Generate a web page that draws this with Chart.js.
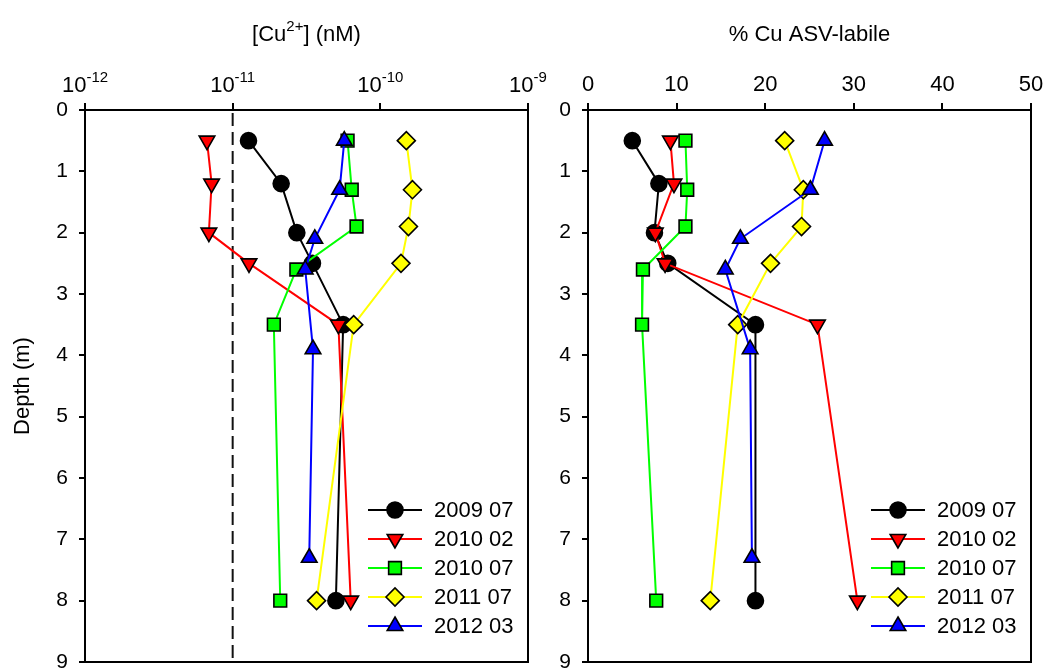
<!DOCTYPE html>
<html>
<head>
<meta charset="utf-8">
<script src="https://cdn.jsdelivr.net/npm/chart.js@4"></script>
<style>
  body { margin: 0; background: #fff; }
  #wrap { position: relative; width: 1046px; height: 668px; }
  canvas { position: absolute; top: 0; }
</style>
</head>
<body>
<div id="wrap">
  <canvas id="left" width="560" height="668" style="left:0"></canvas>
  <canvas id="right" width="501" height="668" style="left:545px"></canvas>
</div>
<script>
// series names
const seriesNames = ['2009 07', '2010 02', '2010 07', '2011 07', '2012 03'];

// depth (m) of each sample, per series
const depth0907 = [0.5, 1.2, 2.0, 2.5, 3.5, 8.0];
const depth1002 = [0.5, 1.2, 2.0, 2.5, 3.5, 8.0];
const depth1007 = [0.5, 1.3, 1.9, 2.6, 3.5, 8.0];
const depth1107 = [0.5, 1.3, 1.9, 2.5, 3.5, 8.0];
const depth1203 = [0.5, 1.3, 2.1, 2.6, 3.9, 7.3];

// [Cu2+] values
const cu0907 = [1.28e-11, 2.13e-11, 2.72e-11, 3.47e-11, 5.6e-11, 5.0e-11];
const cu1002 = [6.7e-12, 7.2e-12, 6.9e-12, 1.29e-11, 5.2e-11, 6.3e-11];
const cu1007 = [6.0e-11, 6.4e-11, 6.9e-11, 2.7e-11, 1.9e-11, 2.1e-11];
const cu1107 = [1.5e-10, 1.65e-10, 1.55e-10, 1.38e-10, 6.6e-11, 3.7e-11];
const cu1203 = [5.7e-11, 5.3e-11, 3.6e-11, 3.1e-11, 3.5e-11, 3.3e-11];

// % Cu ASV-labile values
const asv0907 = [5.0, 8.0, 7.5, 9.0, 18.9, 18.9];
const asv1002 = [9.3, 9.7, 7.6, 8.7, 25.9, 30.4];
const asv1007 = [11.0, 11.2, 11.0, 6.2, 6.1, 7.7];
const asv1107 = [22.2, 24.3, 24.1, 20.6, 16.9, 13.8];
const asv1203 = [26.7, 25.1, 17.2, 15.5, 18.3, 18.5];

// axis ticks
const depthTicks = [0, 1, 2, 3, 4, 5, 6, 7, 8, 9];
const cuTickExps = [-12, -11, -10, -9];
const asvTicks = [0, 10, 20, 30, 40, 50];
const detectionLimit = 1e-11;

const depths = [depth0907, depth1002, depth1007, depth1107, depth1203];
const cuVals = [cu0907, cu1002, cu1007, cu1107, cu1203];
const asvVals = [asv0907, asv1002, asv1007, asv1107, asv1203];

const lineColors = ['#000000', '#ff0000', '#00ff00', '#ffff00', '#0000ff'];
const markerFill = ['#000000', '#ff0000', '#00ff00', '#ffff00', '#0000ff'];
const markerStyle = ['circle', 'triangle', 'rect', 'rectRot', 'triangle'];
const markerRot = [0, 180, 0, 0, 0];
const markerSize = [8, 9, 9, 9, 9];

const FONT = 'Arial, "Liberation Sans", sans-serif';

function makeSets(vals) {
  return seriesNames.map((name, i) => ({
    label: name,
    data: vals[i].map((v, k) => ({ x: v, y: depths[i][k] })),
    borderColor: lineColors[i],
    borderWidth: 2,
    pointStyle: markerStyle[i],
    rotation: markerRot[i],
    pointRadius: markerSize[i],
    pointHoverRadius: markerSize[i],
    pointBackgroundColor: markerFill[i],
    pointBorderColor: '#000',
    pointBorderWidth: 1.6,
    order: 10 - i,
    tension: 0
  }));
}

// frame, legend, x tick labels and title
const decor = {
  id: 'decor',
  afterDraw(chart, args, opts) {
    const ctx = chart.ctx;
    const a = chart.chartArea;
    const xs = chart.scales.x;
    ctx.save();
    ctx.strokeStyle = '#000';
    ctx.lineWidth = 2;
    ctx.strokeRect(a.left, a.top, a.right - a.left, a.bottom - a.top);

    ctx.fillStyle = '#000';
    ctx.textBaseline = 'alphabetic';
    if (opts.log) {
      cuTickExps.forEach(e => {
        const px = xs.getPixelForValue(Math.pow(10, e));
        ctx.font = '22px ' + FONT;
        const w1 = ctx.measureText('10').width;
        ctx.font = '15px ' + FONT;
        const w2 = ctx.measureText(String(e)).width;
        const x0 = px - (w1 + w2) / 2;
        ctx.font = '22px ' + FONT;
        ctx.textAlign = 'left';
        ctx.fillText('10', x0, 92);
        ctx.font = '15px ' + FONT;
        ctx.fillText(String(e), x0 + w1, 82);
      });
      // title [Cu2+] (nM)
      ctx.font = '22px ' + FONT;
      const p1 = '[Cu', p3 = '] (nM)';
      const w1 = ctx.measureText(p1).width, w3 = ctx.measureText(p3).width;
      ctx.font = '15px ' + FONT;
      const w2 = ctx.measureText('2+').width;
      const cx = (a.left + a.right) / 2;
      let x = cx - (w1 + w2 + w3) / 2;
      ctx.textAlign = 'left';
      ctx.font = '22px ' + FONT;
      ctx.fillText(p1, x, 41);
      ctx.font = '15px ' + FONT;
      ctx.fillText('2+', x + w1, 31);
      ctx.font = '22px ' + FONT;
      ctx.fillText(p3, x + w1 + w2, 41);
    } else {
      ctx.font = '22px ' + FONT;
      ctx.textAlign = 'center';
      asvTicks.forEach(t => {
        ctx.fillText(String(t), xs.getPixelForValue(t), 91);
      });
      ctx.fillText('% Cu ASV-labile', (a.left + a.right) / 2, 41);
    }

    // legend
    const helpers = Chart.helpers;
    seriesNames.forEach((name, i) => {
      const y = 510 + i * 29;
      ctx.strokeStyle = lineColors[i];
      ctx.lineWidth = 2;
      ctx.beginPath();
      ctx.moveTo(a.right - 160, y);
      ctx.lineTo(a.right - 106, y);
      ctx.stroke();
      ctx.fillStyle = markerFill[i];
      ctx.strokeStyle = '#000';
      ctx.lineWidth = 1.6;
      helpers.drawPoint(ctx, {
        pointStyle: markerStyle[i], rotation: markerRot[i],
        radius: markerSize[i], borderWidth: 1.6
      }, a.right - 133, y);
      ctx.fillStyle = '#000';
      ctx.font = '22px ' + FONT;
      ctx.textAlign = 'left';
      ctx.textBaseline = 'middle';
      ctx.fillText(name, a.right - 94, y + 1);
    });
    ctx.restore();
  }
};

function yScale(width, withTitle) {
  return {
    type: 'linear',
    position: 'left',
    reverse: true,
    min: 0,
    max: 9,
    afterBuildTicks: s => { s.ticks = depthTicks.map(v => ({ value: v })); },
    afterFit: s => { s.width = width; s.paddingTop = 0; s.paddingBottom = 0; },
    ticks: { color: '#000', font: { size: 21, family: FONT }, padding: 11 },
    grid: { drawOnChartArea: false, color: '#000', lineWidth: 2, tickLength: 6 },
    border: { color: '#000', width: 2 },
    title: {
      display: withTitle, text: 'Depth (m)', color: '#000',
      font: { size: 22, family: FONT }, padding: { top: 10, bottom: 0 }
    }
  };
}

function xGrid() {
  return { drawOnChartArea: false, color: '#000', lineWidth: 2, tickLength: 7 };
}

const leftSets = makeSets(cuVals);
leftSets.push({
  label: 'limit',
  data: [{ x: detectionLimit, y: 0.05 }, { x: detectionLimit, y: 9 }],
  borderColor: '#111',
  borderWidth: 2,
  borderDash: [13, 6],
  pointRadius: 0,
  order: 20
});

new Chart(document.getElementById('left'), {
  type: 'scatter',
  data: { datasets: leftSets },
  options: {
    responsive: false,
    animation: false,
    showLine: true,
    layout: { autoPadding: false, padding: { left: 0, right: 32, top: 0, bottom: 6 } },
    plugins: { legend: { display: false }, tooltip: { enabled: false }, decor: { log: true } },
    scales: {
      x: {
        type: 'logarithmic',
        position: 'top',
        min: 1e-12,
        max: 1e-9,
        afterBuildTicks: s => { s.ticks = cuTickExps.map(e => ({ value: Math.pow(10, e) })); },
        afterFit: s => { s.height = 110; s.paddingLeft = 0; s.paddingRight = 0; },
        ticks: { display: false },
        grid: xGrid(),
        border: { color: '#000', width: 2 }
      },
      y: yScale(85, true)
    }
  },
  plugins: [decor]
});

new Chart(document.getElementById('right'), {
  type: 'scatter',
  data: { datasets: makeSets(asvVals) },
  options: {
    responsive: false,
    animation: false,
    showLine: true,
    layout: { autoPadding: false, padding: { left: 0, right: 15, top: 0, bottom: 6 } },
    plugins: { legend: { display: false }, tooltip: { enabled: false }, decor: { log: false } },
    scales: {
      x: {
        type: 'linear',
        position: 'top',
        min: 0,
        max: 50,
        afterBuildTicks: s => { s.ticks = asvTicks.map(v => ({ value: v })); },
        afterFit: s => { s.height = 110; s.paddingLeft = 0; s.paddingRight = 0; },
        ticks: { display: false },
        grid: xGrid(),
        border: { color: '#000', width: 2 }
      },
      y: yScale(43, false)
    }
  },
  plugins: [decor]
});
</script>
</body>
</html>
